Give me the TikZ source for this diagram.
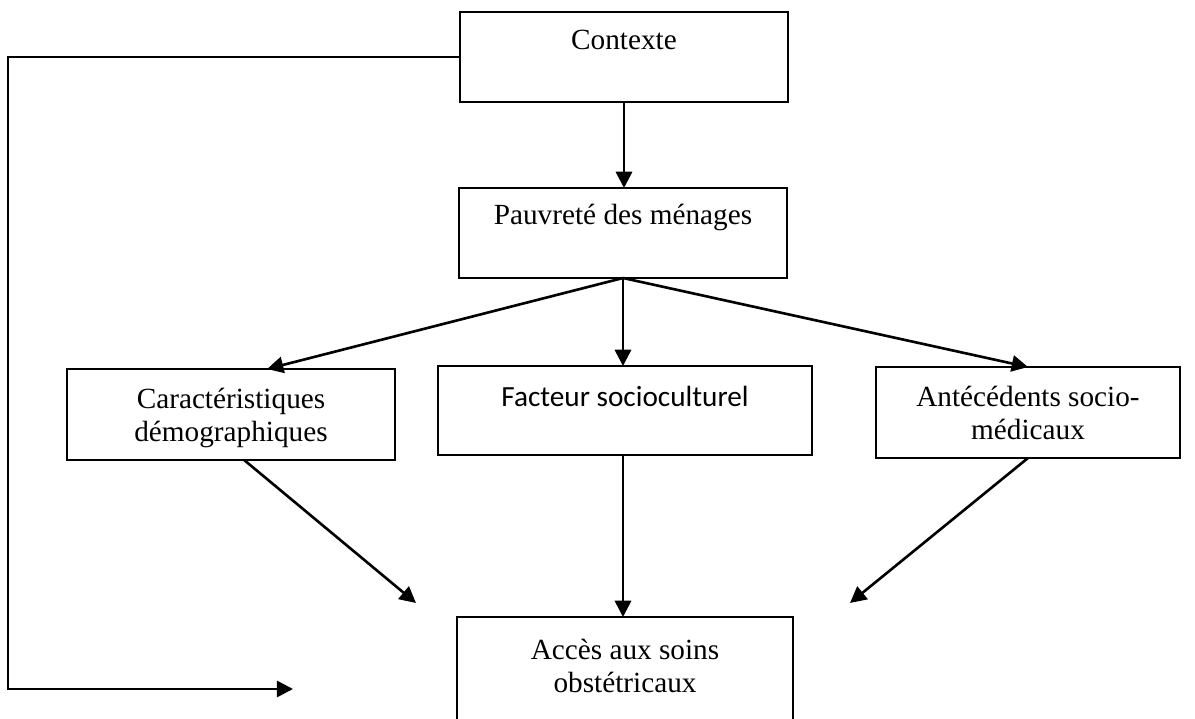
\documentclass[tikz,border=0pt]{standalone}
\usepackage{fontspec}
\setmainfont{Liberation Serif}
\newfontfamily\calibri{Carlito}
\usetikzlibrary{arrows.meta,calc}
\newcommand{\bt}[4]{\parbox[c][#1][t]{#2}{\centering\rule{0pt}{#3}#4}}
\begin{document}
\begin{tikzpicture}[x=0.4pt,y=-0.4pt,
  box/.style={draw, line width=0.8pt, inner sep=0pt, outer sep=0pt},
  conn/.style={line width=1.05pt},
  arr/.style={conn, -{Triangle[length=6.5pt,width=6.5pt]}},
  font=\fontsize{11.7}{13}\selectfont]
\path[use as bounding box] (0,0) rectangle (1195,719);
\clip (0,0) rectangle (1195,719);

\node[box] (ctx) at (624,57) {\bt{36pt}{131.2pt}{15.2pt}{Contexte}};
\node[box] (pov) at (623,233) {\bt{36pt}{131.2pt}{14.8pt}{Pauvreté des ménages}};
\node[box] (car) at (231,414.5) {\bt{36.4pt}{131.2pt}{16pt}{Caractéristiques\\démographiques}};
\node[box] (fac) at (625,410.5) {\bt{35.6pt}{149.6pt}{16pt}{\calibri Facteur socioculturel}};
\node[box] (ant) at (1028,412.5) {\bt{36.4pt}{121.6pt}{16pt}{Antécédents socio-\\médicaux}};
\node[box] (acc) at (625,688.5) {\bt{57.2pt}{134.4pt}{17pt}{Accès aux soins\\obstétricaux}};

\coordinate (accL) at (416,603);
\coordinate (accR) at (850,603);
\coordinate (loopEnd) at (293,689);

\draw[arr] (ctx.south) -- (ctx.south |- pov.north);
\draw[arr] (pov.south) -- ($(car.north west)!0.61!(car.north east)$);
\draw[arr] (pov.south) -- (pov.south |- fac.north);
\draw[arr] (pov.south) -- (ant.north);
\draw[arr] ($(car.south west)!0.54!(car.south east)$) -- (accL);
\draw[arr] (pov.south |- fac.south) -- (pov.south |- acc.north);
\draw[arr] (ant.south) -- (accR);
\draw[arr] (ctx.west) -| (8,689) -- (loopEnd);
\end{tikzpicture}
\end{document}
